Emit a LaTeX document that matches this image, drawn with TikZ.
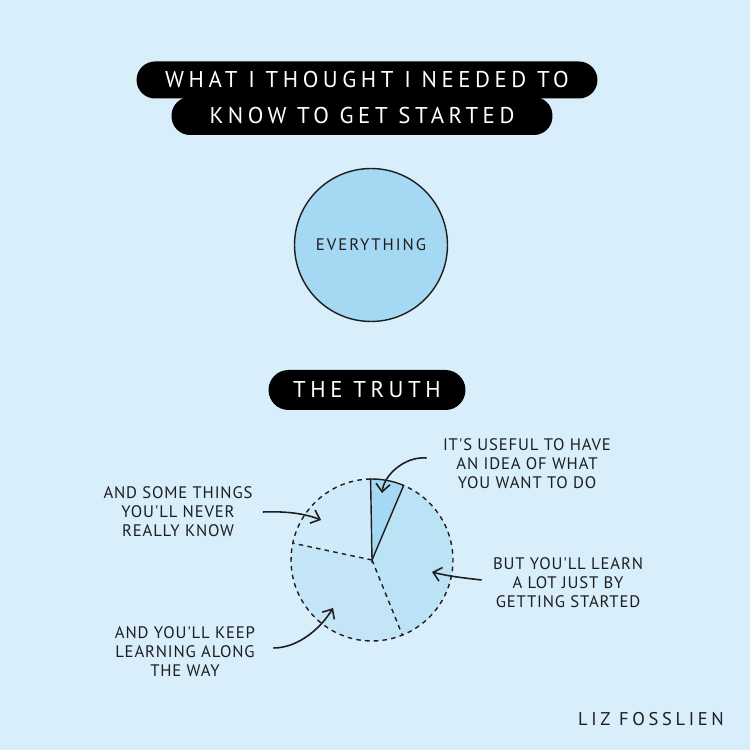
\documentclass[tikz,border=0pt]{standalone}
\usepackage{fontspec}
\setmainfont{PT Sans}
\newfontfamily\handfont[LetterSpace=20]{PT Sans}
\newfontfamily\wordfont[LetterSpace=12]{PT Sans}
\newfontfamily\labelfont[LetterSpace=5]{PT Sans}
\usetikzlibrary{arrows.meta,positioning,calc}
\definecolor{bgblue}{HTML}{D8EEFA}
\definecolor{ballblue}{HTML}{A5D8F2}
\definecolor{pieright}{HTML}{BCE2F6}
\definecolor{pieleft}{HTML}{C3E5F7}
\definecolor{pietop}{HTML}{CFEAF9}
\definecolor{ink}{HTML}{1E1E1E}

\begin{document}
\begin{tikzpicture}[x=0.02cm,y=0.02cm,>={Straight Barb[length=4.5pt,width=8pt]}, every node/.style={font=\labelfont\fontsize{9.5}{10.8}\selectfont}]
\tikzstyle{pill}=[fill=black,text=white,rounded corners=0.37cm,inner sep=0pt,font=\handfont\fontsize{13}{15}\selectfont]
\tikzstyle{lbl}=[align=center,text=ink,inner sep=0pt]
\tikzstyle{sketch}=[->,line width=0.9pt,draw=ink]
\useasboundingbox[fill=bgblue] (0,0) rectangle (750,750);
\node[pill,minimum width=7.62cm,minimum height=0.76cm] (title2) at (362,634) {KNOW TO GET STARTED};
\node[pill,minimum width=9.22cm,minimum height=0.74cm] (title1) at (367,670) {WHAT I THOUGHT I NEEDED TO};
\node[circle,draw=ink,fill=ballblue,line width=0.8pt,minimum size=3.06cm,text=ink,font=\wordfont\fontsize{9.5}{11}\selectfont] (everything) at (371,505) {EVERYTHING};
\node[pill,minimum width=3.94cm,minimum height=0.8cm,rounded corners=0.4cm] (truth) at (367,360) {THE TRUTH};
\coordinate (pie) at (372,190);
\fill[pieright] (pie) -- ++(-68:1.62cm) arc[start angle=-68,end angle=67,radius=1.62cm] -- cycle;
\fill[pietop] (pie) -- ++(91:1.62cm) arc[start angle=91,end angle=168,radius=1.62cm] -- cycle;
\fill[pieleft] (pie) -- ++(168:1.62cm) arc[start angle=168,end angle=292,radius=1.62cm] -- cycle;
\filldraw[fill=ballblue,draw=ink,line width=0.8pt] (pie) -- ++(67:1.62cm) arc[start angle=67,end angle=91,radius=1.62cm] -- cycle;
\draw[ink,line width=0.8pt,dash pattern=on 2.6pt off 2.4pt] (pie) ++(91:1.62cm) arc[start angle=91,end angle=427,radius=1.62cm];
\draw[ink,line width=0.8pt,dash pattern=on 2.6pt off 2.4pt] (pie) -- ++(168:1.62cm) (pie) -- ++(292:1.62cm);
\node[lbl] (useful) at (527,286) {IT'S USEFUL TO HAVE\\AN IDEA OF WHAT\\YOU WANT TO DO};
\node[lbl] (learn) at (568,167) {BUT YOU'LL LEARN\\A LOT JUST BY\\GETTING STARTED};
\node[lbl] (never) at (178,238) {AND SOME THINGS\\YOU'LL NEVER\\REALLY KNOW};
\node[lbl] (keep) at (185,98) {AND YOU'LL KEEP\\LEARNING ALONG\\THE WAY};
\node[lbl,font=\handfont\fontsize{10.5}{13}\selectfont] (author) at (651,31) {LIZ FOSSLIEN};
\coordinate (usefulTip) at (382,257);
\coordinate (learnTip) at (432,178);
\coordinate (neverTip) at (321,230);
\coordinate (keepTip) at (333,142);
\draw[sketch] ($(useful.west)+(-16,6)$) .. controls +(-22,2) and +(2,18) .. (usefulTip);
\draw[sketch] ($(learn.west)+(-11,3)$) .. controls +(-18,2) and +(15,-4) .. (learnTip);
\draw[sketch] ($(never.east)+(10,0)$) .. controls +(25,1) and +(-15,6) .. (neverTip);
\draw[sketch] ($(keep.east)+(18,4)$) .. controls +(25,0) and +(-12,-20) .. (keepTip);
\end{tikzpicture}
\end{document}
